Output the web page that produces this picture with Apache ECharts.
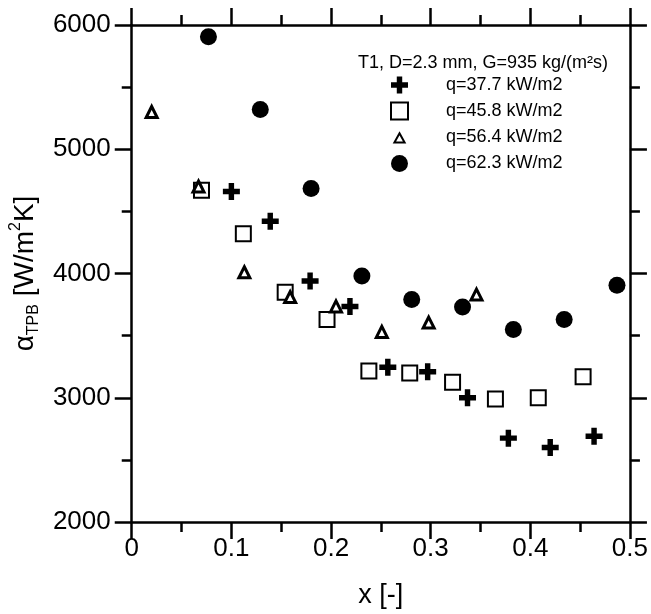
<!DOCTYPE html>
<html>
<head>
<meta charset="utf-8">
<script src="https://cdn.jsdelivr.net/npm/echarts@6/dist/echarts.min.js"></script>
<style>
html,body{margin:0;padding:0;background:#fff;}
#chart{width:651px;height:614px;}
</style>
</head>
<body>
<div id="chart"></div>
<script>
// ---- data ----
const seriesNames = ['q=37.7 kW/m2', 'q=45.8 kW/m2', 'q=56.4 kW/m2', 'q=62.3 kW/m2'];
const q377_x = [0.100, 0.139, 0.179, 0.219, 0.257, 0.297, 0.337, 0.378, 0.420, 0.464];
const q377_y = [4660, 4420, 3940, 3735, 3245, 3210, 3000, 2675, 2600, 2690];
const q458_x = [0.070, 0.112, 0.154, 0.196, 0.238, 0.279, 0.322, 0.365, 0.408, 0.453];
const q458_y = [4670, 4320, 3850, 3630, 3215, 3200, 3125, 2990, 3000, 3170];
const q564_x = [0.020, 0.067, 0.113, 0.159, 0.205, 0.251, 0.298, 0.346];
const q564_y = [5300, 4700, 4010, 3810, 3735, 3530, 3605, 3830];
const q623_x = [0.077, 0.129, 0.180, 0.231, 0.281, 0.332, 0.383, 0.434, 0.487];
const q623_y = [5905, 5320, 4685, 3980, 3790, 3730, 3550, 3630, 3905];
const xMin = 0, xMax = 0.5, xStep = 0.1;
const yMin = 2000, yMax = 6000, yStep = 1000;
const legendTitle = 'T1, D=2.3 mm, G=935 kg/(m\u00B2s)';
const xName = 'x [-]';

const pairs = (xs, ys) => xs.map((x, i) => [x, ys[i]]);
const FONT = '"Liberation Sans", Arial, sans-serif';
const crossPath = 'path://M3.4,0H6.6V3.4H10V6.6H6.6V10H3.4V6.6H0V3.4H3.4Z';
// legend triangle drawn smaller inside its box (extra moveTo points pad the bounds)
const legendTriPath = 'path://M0,0M20,20M10,5L16,16L4,16Z';

const axisCommon = {
  axisLine: { show: true, onZero: false, lineStyle: { color: '#000', width: 2.5 } },
  axisTick: { show: true, inside: false, length: 17, lineStyle: { color: '#000', width: 2.5 } },
  minorTick: { show: true, splitNumber: 2, length: 10, lineStyle: { color: '#000', width: 2.5 } },
  splitLine: { show: false },
  minorSplitLine: { show: false }
};

const chart = echarts.init(document.getElementById('chart'), null, { renderer: 'canvas' });
chart.setOption({
  animation: false,
  backgroundColor: '#fff',
  textStyle: { fontFamily: FONT, color: '#000' },
  grid: { left: 129, right: 21, top: 25, bottom: 91, containLabel: false },
  title: {
    text: legendTitle,
    left: 358, top: 54, padding: 0,
    textStyle: { fontFamily: FONT, fontSize: 18, fontWeight: 'normal', color: '#000' }
  },
  legend: {
    data: [
      { name: seriesNames[0] },
      { name: seriesNames[1] },
      { name: seriesNames[2], icon: legendTriPath },
      { name: seriesNames[3] }
    ],
    orient: 'vertical',
    left: 390, top: 76,
    padding: 0,
    itemWidth: 17, itemHeight: 17, itemGap: 7.5,
    textStyle: { fontFamily: FONT, fontSize: 18, color: '#000', padding: [0, 0, 0, 33] },
    selectedMode: false
  },
  xAxis: [
    Object.assign({}, axisCommon, {
      type: 'value', min: xMin, max: xMax, interval: xStep, position: 'bottom',
      name: xName, nameLocation: 'middle', nameGap: 60,
      nameTextStyle: { fontFamily: FONT, fontSize: 27, color: '#000' },
      axisLabel: { show: true, margin: 14, fontFamily: FONT, fontSize: 26, color: '#000',
        formatter: v => (Math.round(v * 10) / 10).toString() }
    }),
    Object.assign({}, axisCommon, {
      type: 'value', min: xMin, max: xMax, interval: xStep, position: 'top',
      axisLabel: { show: false }
    })
  ],
  yAxis: [
    Object.assign({}, axisCommon, {
      type: 'value', min: yMin, max: yMax, interval: yStep, position: 'left',
      name: '{g|\u03B1}{s|TPB}{g| [W/m}{p|2}{g|K]}',
      nameLocation: 'middle', nameGap: 84, nameRotate: 90,
      nameTextStyle: {
        fontFamily: FONT, color: '#000',
        rich: {
          g: { fontFamily: FONT, fontSize: 28, lineHeight: 34, color: '#000' },
          s: { fontFamily: FONT, fontSize: 16, color: '#000', verticalAlign: 'bottom' },
          p: { fontFamily: FONT, fontSize: 16, color: '#000', verticalAlign: 'top' }
        }
      },
      axisLabel: { show: true, margin: 21, fontFamily: FONT, fontSize: 26, color: '#000',
        formatter: v => String(v) }
    }),
    Object.assign({}, axisCommon, {
      type: 'value', min: yMin, max: yMax, interval: yStep, position: 'right',
      axisLabel: { show: false }
    })
  ],
  series: [
    {
      name: seriesNames[0], type: 'scatter', data: pairs(q377_x, q377_y),
      symbol: crossPath, symbolSize: 17,
      itemStyle: { color: '#000', opacity: 1 }
    },
    {
      name: seriesNames[1], type: 'scatter', data: pairs(q458_x, q458_y),
      symbol: 'rect', symbolSize: 15,
      itemStyle: { color: '#fff', borderColor: '#000', borderWidth: 2, opacity: 1 }
    },
    {
      name: seriesNames[2], type: 'scatter', data: pairs(q564_x, q564_y),
      symbol: 'triangle', symbolSize: 11,
      itemStyle: { color: '#fff', borderColor: '#000', borderWidth: 3, opacity: 1 }
    },
    {
      name: seriesNames[3], type: 'scatter', data: pairs(q623_x, q623_y),
      symbol: 'circle', symbolSize: 17,
      itemStyle: { color: '#000', opacity: 1 }
    }
  ]
});
</script>
</body>
</html>
